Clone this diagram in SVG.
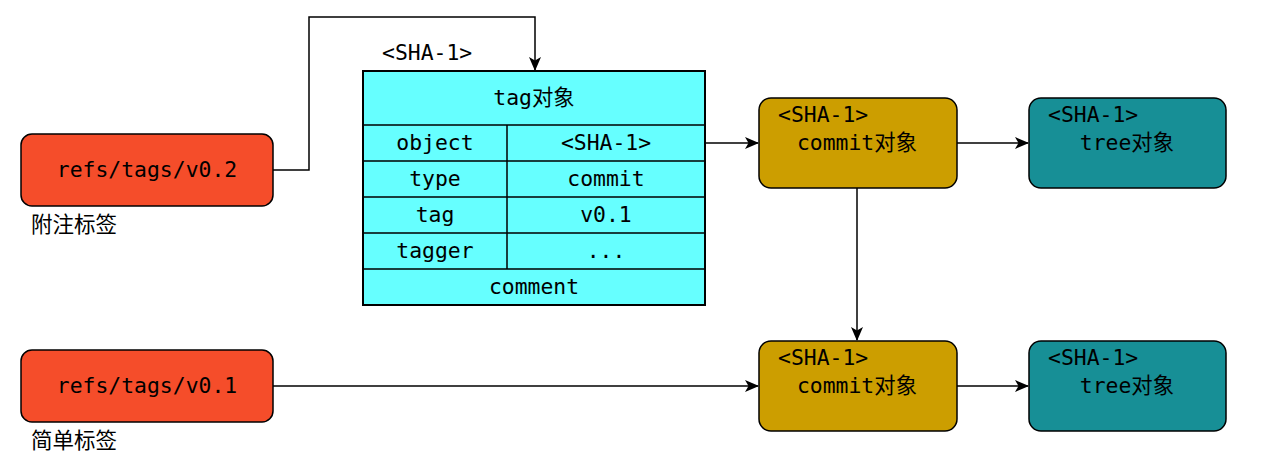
<svg xmlns="http://www.w3.org/2000/svg" width="1263" height="467" viewBox="0 0 1263 467">
<style>
.m{font-family:"DejaVu Sans Mono","Liberation Mono","Noto Sans CJK SC",monospace;font-size:21.4px;fill:#000}
.c{text-anchor:middle}
.lbl{font-family:"Noto Sans CJK SC","Noto Sans",sans-serif;font-size:21.5px;fill:#000}
.ref{fill:#f54d2a;stroke:#000;stroke-width:1.5}
.cm{fill:#cc9e00;stroke:#000;stroke-width:1.5}
.tr{fill:#178f96;stroke:#000;stroke-width:1.5}
.tb{fill:#66ffff;stroke:#000;stroke-width:2}
.ln{fill:none;stroke:#000;stroke-width:1.5}
</style>
<defs>
<marker id="a" viewBox="0 0 14 12" refX="13" refY="6" markerWidth="14" markerHeight="12" markerUnits="userSpaceOnUse" orient="auto">
<path d="M0,0 L14,6 L0,12 L3.5,6 Z" fill="#000"/>
</marker>
</defs>
<g id="connectors">
<path class="ln" d="M273,170 H309 V17 H535 V70" marker-end="url(#a)"/>
<path class="ln" d="M705,143 H758" marker-end="url(#a)"/>
<path class="ln" d="M957,143 H1028" marker-end="url(#a)"/>
<path class="ln" d="M857,188 V340" marker-end="url(#a)"/>
<path class="ln" d="M273,386 H758" marker-end="url(#a)"/>
<path class="ln" d="M957,386 H1028" marker-end="url(#a)"/>
</g>
<g id="ref-v02">
<rect class="ref" x="21" y="134" width="252" height="72" rx="11"/>
<text class="m c" x="147" y="177">refs/tags/v0.2</text>
<text class="lbl" x="31" y="232">附注标签</text>
</g>
<g id="tag-object">
<text class="m" x="382" y="60">&lt;SHA-1&gt;</text>
<rect class="tb" x="363" y="71" width="342" height="234"/>
<path class="ln" stroke-width="2" d="M363,125 H705 M363,161 H705 M363,197 H705 M363,233 H705 M363,269 H705 M507,125 V269"/>
<text class="m c" x="534" y="105">tag对象</text>
<text class="m c" x="435" y="150">object</text>
<text class="m c" x="606" y="150">&lt;SHA-1&gt;</text>
<text class="m c" x="435" y="186">type</text>
<text class="m c" x="606" y="186">commit</text>
<text class="m c" x="435" y="222">tag</text>
<text class="m c" x="606" y="222">v0.1</text>
<text class="m c" x="435" y="258">tagger</text>
<text class="m c" x="606" y="258">...</text>
<text class="m c" x="534" y="294">comment</text>
</g>
<g id="commit1">
<rect class="cm" x="759" y="98" width="198" height="90" rx="12"/>
<text class="m" x="778" y="122">&lt;SHA-1&gt;</text>
<text class="m c" x="857" y="150">commit对象</text>
</g>
<g id="tree1">
<rect class="tr" x="1029" y="98" width="197" height="90" rx="12"/>
<text class="m" x="1048" y="122">&lt;SHA-1&gt;</text>
<text class="m c" x="1127" y="150">tree对象</text>
</g>
<g id="ref-v01">
<rect class="ref" x="21" y="350" width="252" height="72" rx="11"/>
<text class="m c" x="147" y="393">refs/tags/v0.1</text>
<text class="lbl" x="31" y="448">简单标签</text>
</g>
<g id="commit2">
<rect class="cm" x="759" y="341" width="198" height="90" rx="12"/>
<text class="m" x="778" y="365">&lt;SHA-1&gt;</text>
<text class="m c" x="857" y="393">commit对象</text>
</g>
<g id="tree2">
<rect class="tr" x="1029" y="341" width="197" height="90" rx="12"/>
<text class="m" x="1048" y="365">&lt;SHA-1&gt;</text>
<text class="m c" x="1127" y="393">tree对象</text>
</g>
</svg>
